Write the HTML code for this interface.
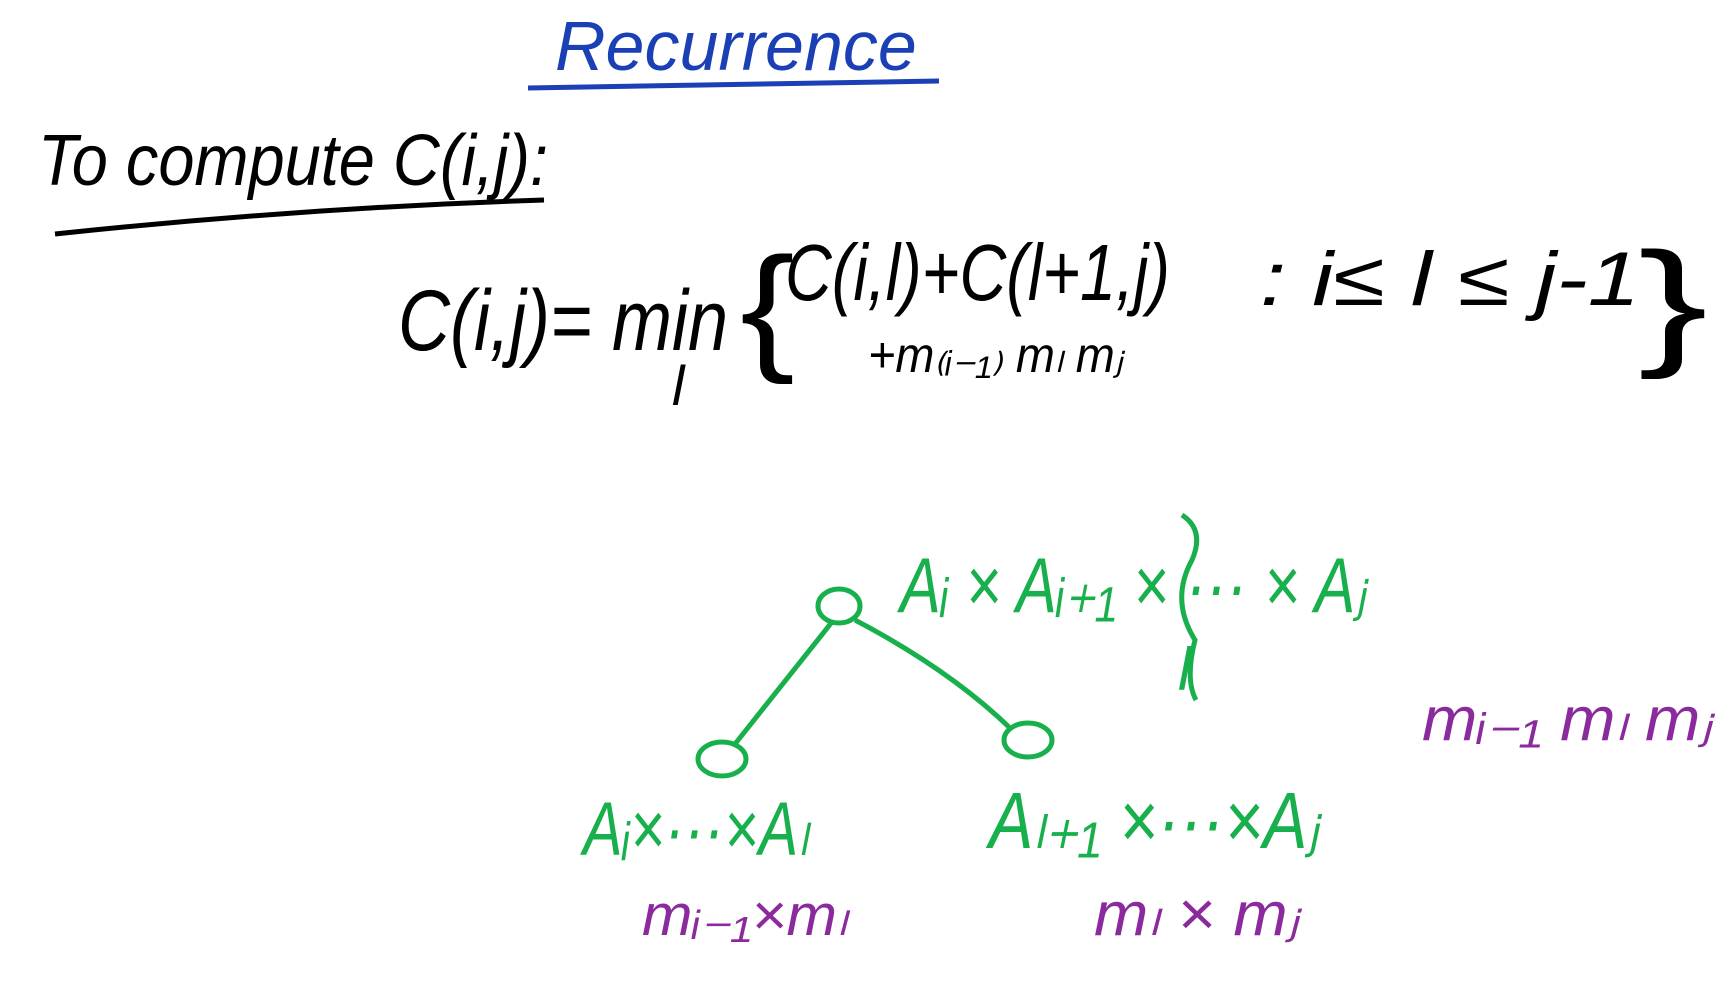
<!DOCTYPE html>
<html><head><meta charset="utf-8">
<style>
html,body{margin:0;padding:0;background:#fff;}
svg{display:block;}
text{font-family:"Liberation Sans",sans-serif;}
</style></head>
<body>
<svg width="1733" height="985" viewBox="0 0 1733 985">
  <rect width="1733" height="985" fill="#fff"/>
  <text x="555" y="70" font-size="70" fill="#1b3fb5" font-style="italic">Recurrence</text>
  <path d="M528 88 L939 81" stroke="#1b3fb5" stroke-width="5" fill="none"/>

  <text x="38" y="185" font-size="72" fill="#000" font-style="italic" textLength="510" lengthAdjust="spacingAndGlyphs">To compute C(i,j):</text>
  <path d="M55 234 Q300 208 544 200" stroke="#000" stroke-width="5" fill="none"/>

  <text x="398" y="350" font-size="86" fill="#000" font-style="italic" textLength="330" lengthAdjust="spacingAndGlyphs">C(i,j)= min</text>
  <text x="672" y="405" font-size="56" fill="#000" font-style="italic">l</text>
  <text x="740" y="355" font-size="140" fill="#000" font-weight="100" textLength="55" lengthAdjust="spacingAndGlyphs">{</text>
  <text x="785" y="300" font-size="80" fill="#000" font-style="italic" textLength="385" lengthAdjust="spacingAndGlyphs">C(i,l)+C(l+1,j)</text>
  <text x="868" y="372" font-size="50" fill="#000" font-style="italic" textLength="255" lengthAdjust="spacingAndGlyphs">+m₍ᵢ₋₁₎ mₗ mⱼ</text>
  <text x="1260" y="305" font-size="76" fill="#000" font-style="italic" textLength="380" lengthAdjust="spacingAndGlyphs">:  i≤ l ≤ j-1</text>
  <text x="1638" y="350" font-size="140" fill="#000" font-weight="100" textLength="70" lengthAdjust="spacingAndGlyphs">}</text>

  <g stroke="#18b04c" stroke-width="5" fill="none">
    <ellipse cx="839" cy="606" rx="21" ry="17"/>
    <ellipse cx="722" cy="759" rx="24" ry="17"/>
    <ellipse cx="1028" cy="740" rx="24" ry="17"/>
    <path d="M832 622 L735 744"/>
    <path d="M855 620 Q950 670 1010 728"/>
    <path d="M1182 515 Q1205 530 1192 560 Q1170 600 1195 640 Q1185 680 1196 700"/>
  </g>
  <text x="900" y="612" font-size="78" fill="#18b04c" font-style="italic" textLength="466" lengthAdjust="spacingAndGlyphs">Aᵢ × Aᵢ₊₁ × ··· × Aⱼ</text>
  <text x="1178" y="690" font-size="60" fill="#18b04c" font-style="italic">l</text>
  <text x="583" y="855" font-size="76" fill="#18b04c" font-style="italic" textLength="225" lengthAdjust="spacingAndGlyphs">Aᵢ×···×Aₗ</text>
  <text x="989" y="848" font-size="80" fill="#18b04c" font-style="italic" textLength="330" lengthAdjust="spacingAndGlyphs">Aₗ₊₁ ×···×Aⱼ</text>

  <text x="642" y="935" font-size="58" fill="#8b2a9c" font-style="italic" textLength="205" lengthAdjust="spacingAndGlyphs">mᵢ₋₁×mₗ</text>
  <text x="1094" y="935" font-size="62" fill="#8b2a9c" font-style="italic" textLength="205" lengthAdjust="spacingAndGlyphs">mₗ × mⱼ</text>
  <text x="1422" y="740" font-size="62" fill="#8b2a9c" font-style="italic" textLength="290" lengthAdjust="spacingAndGlyphs">mᵢ₋₁ mₗ mⱼ</text>
</svg>
</body></html>
